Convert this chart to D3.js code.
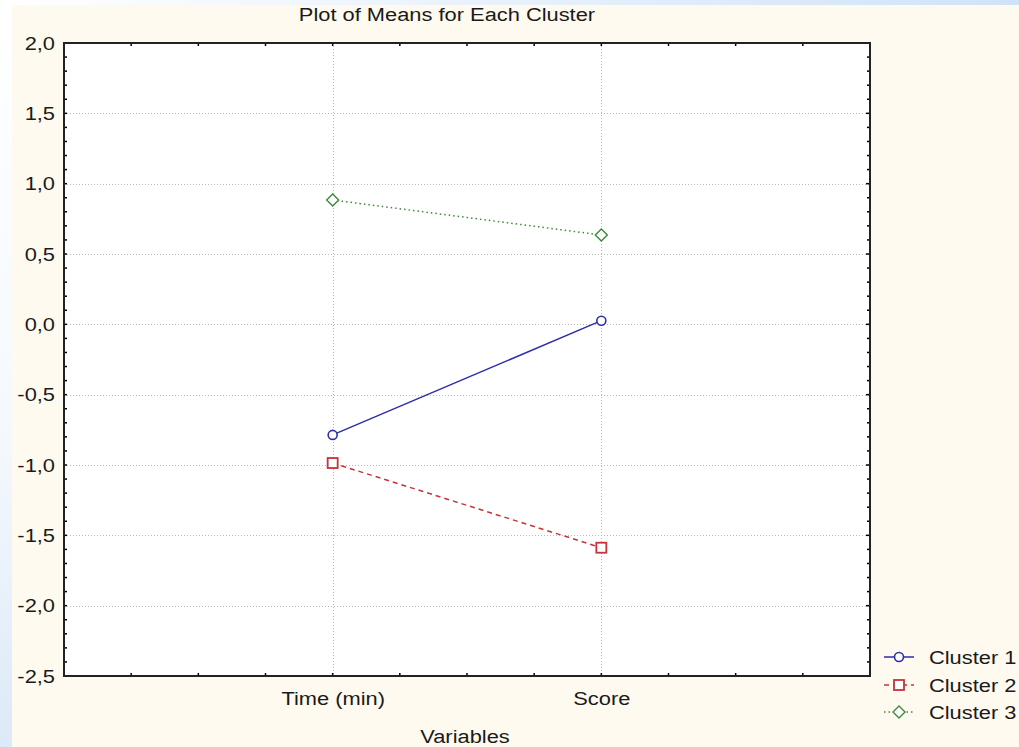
<!DOCTYPE html>
<html><head><meta charset="utf-8">
<script src="https://cdn.jsdelivr.net/npm/d3@7"></script>
<style>body{margin:0;padding:0;overflow:hidden}svg{display:block}text{font-family:"Liberation Sans",Arial,sans-serif;fill:#1a1a1a}</style>
</head><body>
<script>
const categories = ["Time (min)", "Score"];
const clusterNames = ["Cluster 1", "Cluster 2", "Cluster 3"];
const cluster1 = [-0.786, 0.026];
const cluster2 = [-0.986, -1.588];
const cluster3 = [0.884, 0.635];
const yTickLabels = ["2,0","1,5","1,0","0,5","0,0","-0,5","-1,0","-1,5","-2,0","-2,5"];
const yTickValues = [2.0,1.5,1.0,0.5,0.0,-0.5,-1.0,-1.5,-2.0,-2.5];

const W = 1019, H = 747;
const L = 64, R = 870, T = 43, B = 676;
const FS = "19px", SX = 1.15;
const svg = d3.select("body").append("svg").attr("width", W).attr("height", H);
const defs = svg.append("defs");
const gTop = defs.append("linearGradient").attr("id","gtop").attr("x1","0").attr("x2","1").attr("y1","0").attr("y2","0");
gTop.append("stop").attr("offset","0").attr("stop-color","#ffffff");
gTop.append("stop").attr("offset","1").attr("stop-color","#cfe3f8");
const gLeft = defs.append("linearGradient").attr("id","gleft").attr("x1","0").attr("x2","0").attr("y1","0").attr("y2","1");
gLeft.append("stop").attr("offset","0").attr("stop-color","#ffffff");
gLeft.append("stop").attr("offset","0.6").attr("stop-color","#f4f8fd");
gLeft.append("stop").attr("offset","1").attr("stop-color","#dce9f8");

svg.append("rect").attr("width",W).attr("height",H).attr("fill","#fefaef");
svg.append("rect").attr("x",0).attr("y",0).attr("width",W).attr("height",5).attr("fill","url(#gtop)");
svg.append("rect").attr("x",0).attr("y",5).attr("width",12).attr("height",H-5).attr("fill","url(#gleft)");

const x = d3.scaleLinear().domain([0, 3]).range([L, R]);
const y = d3.scaleLinear().domain([-2.5, 2.0]).range([B, T]);

svg.append("rect").attr("x",L).attr("y",T).attr("width",R-L).attr("height",B-T).attr("fill","#ffffff");

// grid
const grid = svg.append("g").attr("stroke","#b8b8b8").attr("stroke-width",1).attr("stroke-dasharray","1,2");
yTickValues.filter(v => v < 2.0 && v > -2.5).forEach(v => {
  grid.append("line").attr("x1",L).attr("x2",R).attr("y1",Math.round(y(v))+0.5).attr("y2",Math.round(y(v))+0.5);
});
categories.forEach((c,i) => {
  grid.append("line").attr("x1",Math.round(x(i+1))+0.5).attr("x2",Math.round(x(i+1))+0.5).attr("y1",T).attr("y2",B);
});

// text helper: horizontally stretched text
function stretch(sel, anchorX) {
  sel.each(function() {
    const t = d3.select(this);
    const cx = anchorX != null ? anchorX : +t.attr("x") || 0;
    t.attr("transform", `translate(${cx},0) scale(${SX},1) translate(${-cx},0)`);
  });
}

// axes
const minorY = d3.range(-25, 21).map(v => v/10);
const minorX = d3.range(0, 13).map(v => v/4);
const fmt = v => yTickLabels[yTickValues.findIndex(t => Math.abs(t - v) < 1e-9)];
const leftAxis = d3.axisLeft(y).tickValues(yTickValues).tickSize(0).tickPadding(9).tickFormat(fmt);
const gl = svg.append("g").attr("transform",`translate(${L},0)`).call(leftAxis);
gl.select(".domain").remove();
gl.selectAll("text").attr("font-size",FS).style("font-family",'"Liberation Sans",Arial,sans-serif').attr("fill","#1a1a1a");
gl.selectAll("text").each(function(){ d3.select(this).attr("transform", `translate(-9,0) scale(${SX},1) translate(9,0)`); });

const tickG = svg.append("g").attr("stroke","#000").attr("stroke-width",1.5);
minorY.forEach(v => {
  const yy = y(v);
  const major = Math.abs(v*2 - Math.round(v*2)) < 1e-9;
  tickG.append("line").attr("x1",L).attr("x2",L+3).attr("y1",yy).attr("y2",yy);
  tickG.append("line").attr("x1",R).attr("x2",R-(major?4:3)).attr("y1",yy).attr("y2",yy);
});
minorX.forEach(v => {
  const xx = x(v);
  tickG.append("line").attr("x1",xx).attr("x2",xx).attr("y1",T).attr("y2",T+3);
  tickG.append("line").attr("x1",xx).attr("x2",xx).attr("y1",B).attr("y2",B-3);
});

svg.append("rect").attr("x",L).attr("y",T).attr("width",R-L).attr("height",B-T)
  .attr("fill","none").attr("stroke","#222").attr("stroke-width",2);

const bottomAxis = d3.axisBottom(x).tickValues([1,2]).tickSize(0).tickPadding(16).tickFormat((d,i) => categories[i]);
const gb = svg.append("g").attr("transform",`translate(0,${B})`).call(bottomAxis);
gb.select(".domain").remove();
gb.selectAll("text").attr("font-size",FS).style("font-family",'"Liberation Sans",Arial,sans-serif').attr("fill","#1a1a1a")
  .attr("transform", `scale(${SX},1)`);

// series
const series = [
  {name: clusterNames[0], vals: cluster1, color: "#2e2ea8", dash: null, shape: "circle"},
  {name: clusterNames[1], vals: cluster2, color: "#c4343a", dash: "5,4", shape: "square"},
  {name: clusterNames[2], vals: cluster3, color: "#3c8a3c", dash: "1.5,3", shape: "diamond"}
];
function marker(g, s, cx, cy) {
  if (s.shape === "circle") {
    g.append("circle").attr("cx",cx).attr("cy",cy).attr("r",4.5).attr("fill","#fff").attr("stroke",s.color).attr("stroke-width",1.6);
  } else if (s.shape === "square") {
    g.append("rect").attr("x",cx-5).attr("y",cy-5).attr("width",10).attr("height",10).attr("fill","#fff").attr("stroke",s.color).attr("stroke-width",1.8);
  } else {
    g.append("path").attr("d",`M${cx},${cy-6}L${cx+6},${cy}L${cx},${cy+6}L${cx-6},${cy}Z`).attr("fill","#fff").attr("stroke",s.color).attr("stroke-width",1.4);
  }
}
const line = d3.line().x((d,i) => x(i+1)).y(d => y(d));
series.forEach(s => {
  const g = svg.append("g");
  g.append("path").attr("d", line(s.vals)).attr("fill","none").attr("stroke",s.color).attr("stroke-width",1.5)
    .attr("stroke-dasharray", s.dash);
  s.vals.forEach((v,i) => marker(g, s, x(i+1), y(v)));
});

// title
svg.append("text").attr("x",447).attr("y",21).attr("text-anchor","middle").attr("font-size",FS).text("Plot of Means for Each Cluster").call(stretch);
svg.append("text").attr("x",465).attr("y",743).attr("text-anchor","middle").attr("font-size",FS).text("Variables").call(stretch);

// legend
const legY = [657, 685, 712];
series.forEach((s,i) => {
  const g = svg.append("g");
  g.append("line").attr("x1",884).attr("x2",914).attr("y1",legY[i]).attr("y2",legY[i]).attr("stroke",s.color).attr("stroke-width",1.5).attr("stroke-dasharray",s.dash);
  marker(g, s, 899, legY[i]);
  g.append("text").attr("x",929).attr("y",legY[i]+7).attr("font-size",FS).text(s.name).call(stretch);
});
</script>
</body></html>
